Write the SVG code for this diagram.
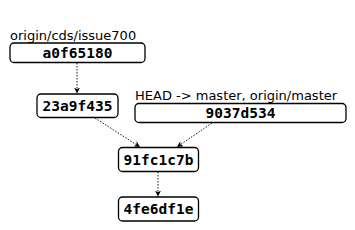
<svg xmlns="http://www.w3.org/2000/svg" width="355" height="230" viewBox="0 0 355 230">
<defs>
<style>
.box{fill:#fff;stroke:#000;stroke-width:1.3}
.hash{font-family:"DejaVu Sans Mono",monospace;font-weight:bold;font-size:14.5px;text-anchor:middle}
.lbl{font-family:"DejaVu Sans",sans-serif;font-size:13px}
.edge{fill:none;stroke:#000;stroke-width:0.9;stroke-dasharray:1.5,1.5}
</style>
<marker id="ah" viewBox="0 0 10 10" refX="10" refY="5" markerWidth="6" markerHeight="6" orient="auto" markerUnits="userSpaceOnUse">
<path d="M0,0 L10,5 L0,10 L3,5 Z" fill="#000"/>
</marker>
</defs>
<rect width="355" height="230" fill="#fff"/>
<g id="edges">
<line class="edge" x1="77" y1="63" x2="77" y2="93.5" marker-end="url(#ah)"/>
<line class="edge" x1="95" y1="118" x2="140" y2="147" marker-end="url(#ah)"/>
<line class="edge" x1="212" y1="123" x2="177" y2="147" marker-end="url(#ah)"/>
<line class="edge" x1="158" y1="172" x2="158" y2="196.5" marker-end="url(#ah)"/>
</g>
<g id="a0f65180">
<text class="lbl" x="10" y="40">origin/cds/issue700</text>
<rect class="box" x="10" y="43" width="135" height="19.5" rx="4"/>
<text class="hash" x="77.5" y="58">a0f65180</text>
</g>
<g id="23a9f435">
<rect class="box" x="37" y="94" width="81" height="23.5" rx="4"/>
<text class="hash" x="77.5" y="111">23a9f435</text>
</g>
<g id="9037d534">
<text class="lbl" x="135" y="100">HEAD -&gt; master, origin/master</text>
<rect class="box" x="135" y="103.5" width="211" height="19" rx="4"/>
<text class="hash" x="240.5" y="118">9037d534</text>
</g>
<g id="91fc1c7b">
<rect class="box" x="118.5" y="147.5" width="80" height="24" rx="4"/>
<text class="hash" x="158.5" y="164.5">91fc1c7b</text>
</g>
<g id="4fe6df1e">
<rect class="box" x="118.5" y="197" width="80" height="24" rx="4"/>
<text class="hash" x="158.5" y="214">4fe6df1e</text>
</g>
</svg>
